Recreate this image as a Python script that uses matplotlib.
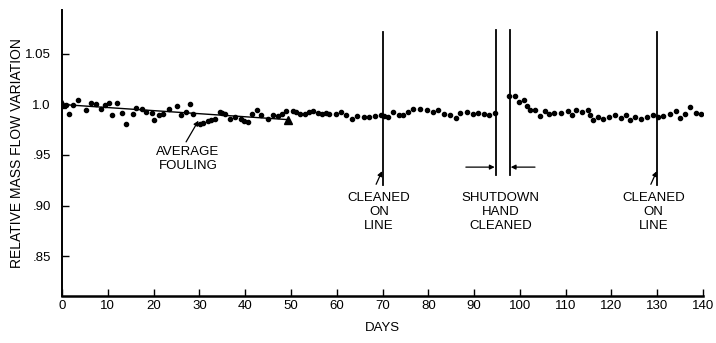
import matplotlib
matplotlib.use("Agg")
import matplotlib.pyplot as plt

plt.rcParams['font.family'] = ['Liberation Sans', 'DejaVu Sans']

# ---- data ----
days = [0.9, 1.6, 2.5, 3.6, 5.3, 6.3, 7.4, 8.6, 9.4, 10.2, 11.0, 12.1, 13.1, 14.0,
        15.4, 16.2, 17.4, 18.4, 19.7, 20.2, 21.1, 22.0, 23.3, 25.2, 25.9, 27.0,
        27.9, 28.7, 30.1, 30.9, 31.8, 32.6, 33.4, 34.5, 35.0, 35.6, 36.7, 37.7,
        39.1, 39.8, 40.7, 41.6, 42.6, 43.5, 44.9, 46.0, 47.1, 48.0, 48.9,
        50.5, 51.1, 52.0, 53.0, 53.9, 54.9, 55.9, 56.8, 57.7, 58.4, 59.9, 61.0,
        62.1, 63.4, 64.4, 65.9, 67.1, 68.3, 69.6, 70.3, 71.3, 72.3, 73.5, 74.5,
        75.6, 76.7, 78.2, 79.7, 81.1, 82.2, 83.5, 84.8, 86.0, 87.0, 88.4, 89.7,
        90.8, 92.1, 93.3, 94.5,
        97.6, 99.0, 99.8, 100.9, 101.6, 102.3, 103.4, 104.5, 105.5, 106.3, 107.5,
        108.9, 110.4, 111.3, 112.2, 113.5, 114.8, 115.3, 116.0, 117.0, 118.1,
        119.5, 120.8, 122.1, 123.2, 124.0, 125.2, 126.5, 127.7, 129.0, 130.1,
        131.2, 132.7, 134.0, 135.0, 136.0, 137.1, 138.4, 139.6]
flow = [0.9995, 0.991, 0.9995, 1.004, 0.995, 1.001, 1.0, 0.996, 0.9995, 1.001,
        0.990, 1.001, 0.992, 0.981, 0.991, 0.997, 0.996, 0.993, 0.992, 0.985,
        0.990, 0.991, 0.996, 0.9988, 0.9896, 0.993, 1.0, 0.991, 0.981, 0.982,
        0.984, 0.985, 0.986, 0.993, 0.992, 0.991, 0.986, 0.988, 0.986, 0.984,
        0.983, 0.991, 0.995, 0.990, 0.986, 0.990, 0.989, 0.991, 0.994,
        0.994, 0.993, 0.991, 0.991, 0.993, 0.994, 0.992, 0.991, 0.992, 0.991,
        0.991, 0.993, 0.990, 0.986, 0.989, 0.988, 0.988, 0.989, 0.990, 0.989,
        0.988, 0.993, 0.990, 0.990,
        0.993, 0.996, 0.996, 0.995, 0.993, 0.995, 0.991, 0.990, 0.987, 0.992,
        0.993, 0.991, 0.992, 0.991, 0.990, 0.992,
        1.0085, 1.008, 1.002, 1.004, 0.9985, 0.9945, 0.9945, 0.9886, 0.9936,
        0.991, 0.992, 0.992, 0.994, 0.990, 0.995, 0.993, 0.995, 0.990, 0.985,
        0.988, 0.986, 0.988, 0.990, 0.987, 0.990, 0.985, 0.988, 0.986, 0.988,
        0.990, 0.988, 0.989, 0.991, 0.994, 0.987, 0.991, 0.998, 0.992, 0.991]

trend_days = [0.0, 49.4]
trend_flow = [1.0, 0.985]

cleaning_days = [70.0, 130.0]
shutdown_days = [94.7, 97.8]

x_ticks = list(range(0, 141, 10))
y_ticks = [0.85, 0.90, 0.95, 1.0, 1.05]
y_tick_labels = ['.85', '.90', '.95', '1.0', '1.05']

# ---- figure ----
fig = plt.figure(figsize=(7.16, 3.43), dpi=100)
ax = fig.add_axes([0.0866, 0.137, 0.8953, 0.834])

ax.plot(days, flow, 'o', color='black', ms=3.0, mec='black')
ax.plot(trend_days, trend_flow, '-', color='black', lw=1.0)
ax.plot(trend_days, trend_flow, '^', color='black', ms=5.5)

for d in cleaning_days:
    ax.plot([d, d], [0.920, 1.0718], color='black', lw=1.3)
for d in shutdown_days:
    ax.plot([d, d], [0.930, 1.0738], color='black', lw=1.3)

fs = 9.5
arrow_kw = dict(arrowstyle='-|>', color='black', lw=0.9,
                mutation_scale=7, shrinkA=0, shrinkB=0)

ax.text(27.5, 0.946, 'AVERAGE\nFOULING', ha='center', va='center', fontsize=fs,
        linespacing=1.15)
ax.annotate('', xy=(29.8, 0.984), xytext=(27.1, 0.963), arrowprops=arrow_kw)

for d in cleaning_days:
    ax.text(d - 0.8, 0.8936, 'CLEANED\nON\nLINE', ha='center', va='center',
            fontsize=fs, linespacing=1.2)
    ax.annotate('', xy=(d - 0.1, 0.934), xytext=(d - 1.4, 0.921),
                arrowprops=arrow_kw)

ax.text(95.8, 0.8936, 'SHUTDOWN\nHAND\nCLEANED', ha='center', va='center',
        fontsize=fs, linespacing=1.2)
ax.annotate('', xy=(shutdown_days[0] - 0.2, 0.938), xytext=(88.2, 0.938),
            arrowprops=arrow_kw)
ax.annotate('', xy=(shutdown_days[1] + 0.2, 0.938), xytext=(103.3, 0.938),
            arrowprops=arrow_kw)

ax.set_xlim(0, 140)
ax.set_ylim(0.8104, 1.0936)
ax.set_xticks(x_ticks)
ax.set_xticklabels([str(t) for t in x_ticks])
ax.set_yticks(y_ticks)
ax.set_yticklabels(y_tick_labels)
ax.tick_params(axis='x', direction='in', length=5, width=1, pad=3, labelsize=9.5)
ax.tick_params(axis='y', direction='in', length=5, width=1, pad=8, labelsize=9.5)
for s in ['top', 'right']:
    ax.spines[s].set_visible(False)
ax.spines['left'].set_linewidth(1.4)
ax.spines['bottom'].set_linewidth(1.8)

ax.set_xlabel('DAYS', fontsize=9.5, labelpad=7)
ax.set_ylabel('RELATIVE MASS FLOW VARIATION', fontsize=10, labelpad=0.5)

fig.savefig('out.png', dpi=100)
